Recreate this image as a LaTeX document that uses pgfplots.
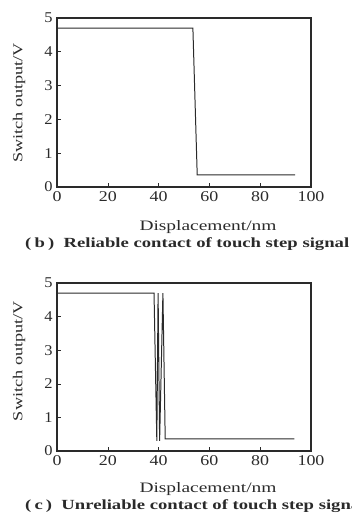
\documentclass[border=0pt]{standalone}
\usepackage{pgfplots}
\pgfplotsset{compat=1.18}
\usepackage{fontspec}
\setmainfont{Liberation Serif}
\definecolor{ink}{HTML}{2A2A2A}
\newlength\capw
\begin{document}
\settowidth\capw{\bfseries\fontsize{14}{14}\selectfont (\,b\,)~~Reliable contact of touch step signal}%
\pgfmathsetmacro\capsx{324bp/\capw}%
\begin{tikzpicture}
\useasboundingbox (0bp,0bp) rectangle (352bp,521bp);
\pgfplotsset{
  myax/.style={
    scale only axis, width=254bp,
    xmin=0, xmax=100, ymin=0, ymax=5,
    xtick={0,20,...,100}, ytick={0,1,...,5},
    tick align=inside, xtick pos=bottom, ytick pos=left,
    major tick length=4bp,
    axis line style={ink, line width=1.2pt},
    tick style={ink, line width=0.6pt},
    /pgf/number format/assume math mode=true,
    ticklabel style={font=\fontsize{15}{15}\selectfont, text=ink},
    xticklabel={\scalebox{1.2}[1]{\pgfmathprintnumber{\tick}}},
    yticklabel={\scalebox{1.1}[1]{\pgfmathprintnumber{\tick}}},
    xticklabel style={yshift=-1bp},
    yticklabel style={xshift=-1bp},
    clip=false,
  }
}
\begin{axis}[myax, at={(57bp,334bp)}, anchor=south west, height=169bp]
\addplot[ink, line width=1pt] coordinates {
(0,4.70) (53.5,4.70) (55.2,0.36) (93.7,0.36)};
\end{axis}
\begin{axis}[myax, at={(57bp,70bp)}, anchor=south west, height=168bp]
\addplot[ink, line width=1pt] coordinates {
(0,4.70) (38.2,4.70) (39.3,0.3) (39.8,4.70) (40.4,0.3) (41.7,4.70) (42.6,0.36) (93.5,0.36)};
\end{axis}
% y labels
\node[rotate=90, text=ink] at (19bp,418bp) {\resizebox{120bp}{9.5bp}{\fontsize{13}{13}\selectfont Switch output/V}};
\node[rotate=90, text=ink] at (19bp,160bp) {\resizebox{120bp}{9.5bp}{\fontsize{13}{13}\selectfont Switch output/V}};
% x labels
\node[text=ink, anchor=base] at (208bp,290bp) {\resizebox{137bp}{10bp}{\fontsize{14}{14}\selectfont Displacement/nm}};
\node[text=ink, anchor=base] at (208bp,29bp) {\resizebox{137bp}{10bp}{\fontsize{14}{14}\selectfont Displacement/nm}};
% captions
\node[text=ink, anchor=base west, inner sep=0pt] at (25bp,273bp) {\scalebox{\capsx}[1]{\bfseries\fontsize{14}{14}\selectfont (\,b\,)~~Reliable contact of touch step signal}};
\node[text=ink, anchor=base west, inner sep=0pt] at (25bp,12bp) {\scalebox{\capsx}[1]{\bfseries\fontsize{14}{14}\selectfont (\,c\,)~~Unreliable contact of touch step signal}};
\end{tikzpicture}
\end{document}
